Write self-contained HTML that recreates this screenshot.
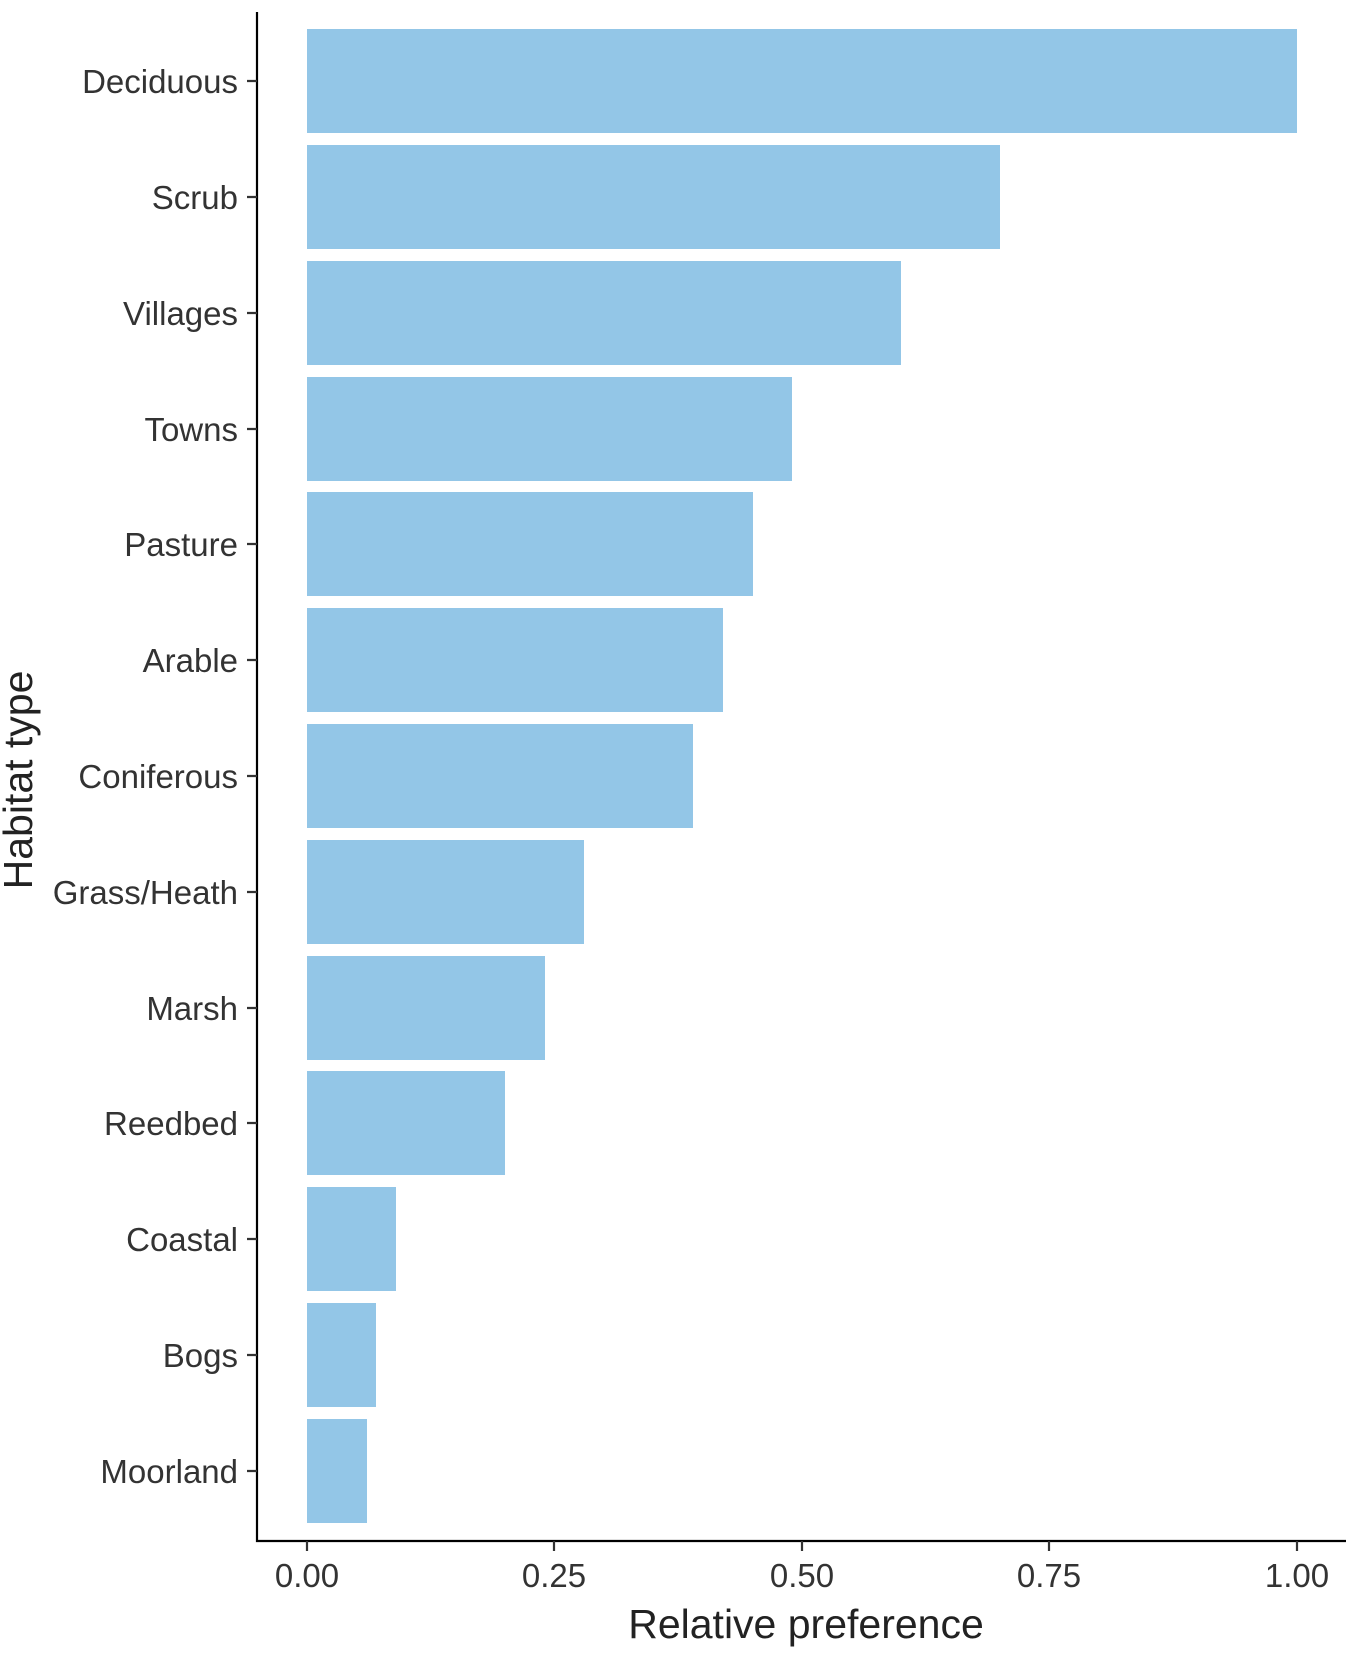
<!DOCTYPE html>
<html><head><style>body{margin:0;background:#fff}</style></head><body>
<svg width="1358" height="1653" xmlns="http://www.w3.org/2000/svg" font-family="Liberation Sans, Arial, sans-serif">
<g fill="#93c6e7">
<rect x="307" y="29" width="990" height="104"/>
<rect x="307" y="145" width="693" height="104"/>
<rect x="307" y="261" width="594" height="104"/>
<rect x="307" y="377" width="485" height="104"/>
<rect x="307" y="492" width="446" height="104"/>
<rect x="307" y="608" width="416" height="104"/>
<rect x="307" y="724" width="386" height="104"/>
<rect x="307" y="840" width="277" height="104"/>
<rect x="307" y="956" width="238" height="104"/>
<rect x="307" y="1071" width="198" height="104"/>
<rect x="307" y="1187" width="89" height="104"/>
<rect x="307" y="1303" width="69" height="104"/>
<rect x="307" y="1419" width="60" height="104"/>
</g>
<g stroke="#000" stroke-width="2.2" fill="none">
<path d="M257 12 V1541 H1346"/>
</g>
<g stroke="#333" stroke-width="2.2">
<path d="M247 81h10M247 197h10M247 313h10M247 429h10M247 544h10M247 660h10M247 776h10M247 892h10M247 1008h10M247 1123h10M247 1239h10M247 1355h10M247 1471h10"/>
<path d="M307 1541v10M554 1541v10M802 1541v10M1049 1541v10M1297 1541v10"/>
</g>
<g fill="#333" font-size="33" text-anchor="end">
<text x="238" y="93">Deciduous</text>
<text x="238" y="209">Scrub</text>
<text x="238" y="325">Villages</text>
<text x="238" y="441">Towns</text>
<text x="238" y="556">Pasture</text>
<text x="238" y="672">Arable</text>
<text x="238" y="788">Coniferous</text>
<text x="238" y="904">Grass/Heath</text>
<text x="238" y="1020">Marsh</text>
<text x="238" y="1135">Reedbed</text>
<text x="238" y="1251">Coastal</text>
<text x="238" y="1367">Bogs</text>
<text x="238" y="1483">Moorland</text>
</g>
<g fill="#333" font-size="33" text-anchor="middle">
<text x="307" y="1587">0.00</text>
<text x="554" y="1587">0.25</text>
<text x="802" y="1587">0.50</text>
<text x="1049" y="1587">0.75</text>
<text x="1297" y="1587">1.00</text>
</g>
<text x="806" y="1638" font-size="41" text-anchor="middle" fill="#222">Relative preference</text>
<text transform="translate(32,780) rotate(-90)" font-size="41" text-anchor="middle" fill="#222">Habitat type</text>
</svg>
</body></html>
